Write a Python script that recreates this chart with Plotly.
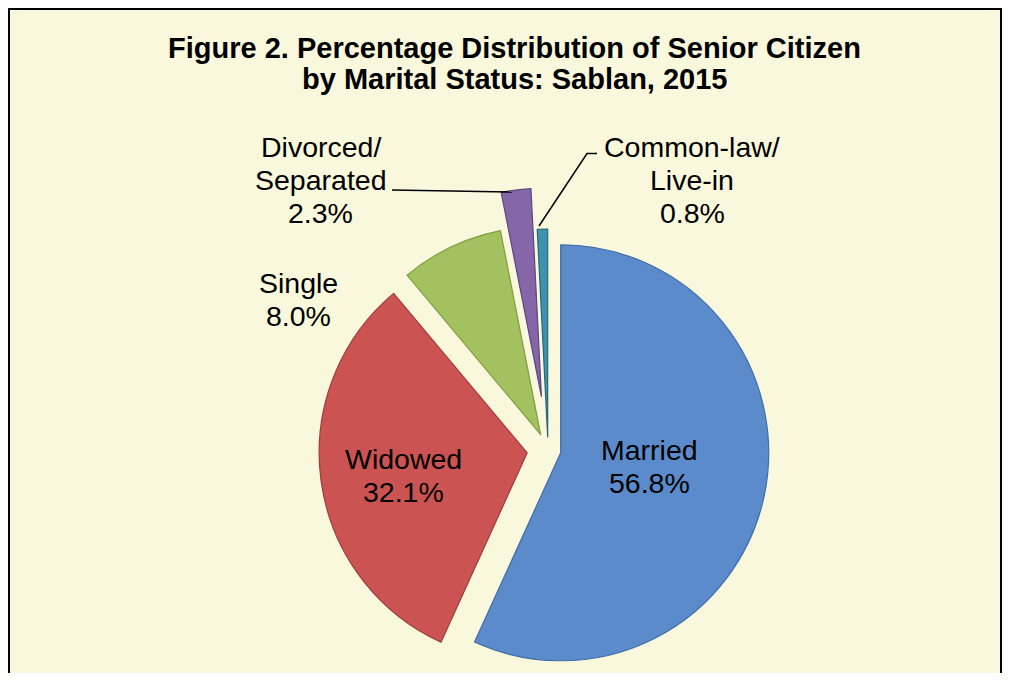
import math
import plotly.graph_objects as go

# ---------------- data ----------------
categories = ["Married", "Widowed", "Single", "Divorced/Separated", "Common-law/Live-in"]
label_lines = [["Married"], ["Widowed"], ["Single"], ["Divorced/", "Separated"], ["Common-law/", "Live-in"]]
percentages = [56.8, 32.1, 8.0, 2.3, 0.8]
title_lines = ["Figure 2. Percentage Distribution of Senior Citizen", "by Marital Status: Sablan, 2015"]

# ---------------- style / layout ----------------
colors = ["#5B8BCB", "#CB5452", "#A3C15F", "#8466A9", "#3C93AD"]
edge_colors = ["#3F6DAA", "#A03A38", "#7F9C40", "#5E4680", "#25687C"]
explode_px = [13, 21, 17, 54, 13]          # explosion distance of each slice (px)
BG = "#FAF8DC"
FONT = "Liberation Sans, Arial, sans-serif"
OFF = 8                                    # page body margin
SW, SH = 1010, 681                         # screen size
W, H = SW - 2 * OFF, SH - 2 * OFF          # figure size
cx, cy, R = 548, 450, 208                  # pie centre / radius (screen px)
label_pos = [(649, 450), (403, 459), (298, 283), (320.5, 147), (692, 147)]  # first-line centre
LINE_GAP = 33
LABEL_SIZE = 28.5
TITLE_SIZE = 29


def px_x(x):
    return (x - OFF) / W


def px_y(y):
    return 1 - (y - OFF) / H


fig = go.Figure()

total = sum(percentages)
cum = 0.0
for i, v in enumerate(percentages):
    theta = 2 * math.pi * (cum + v / 2) / total
    cum += v
    sx = cx + explode_px[i] * math.sin(theta)
    sy = cy - explode_px[i] * math.cos(theta)
    cols = [c if j == i else "rgba(0,0,0,0)" for j, c in enumerate(colors)]
    lcols = [c if j == i else "rgba(0,0,0,0)" for j, c in enumerate(edge_colors)]
    fig.add_trace(go.Pie(
        labels=categories, values=percentages, sort=False, direction="clockwise", rotation=0,
        textinfo="none", hoverinfo="label+percent",
        marker=dict(colors=cols, line=dict(color=lcols, width=1.2)),
        domain=dict(x=[px_x(sx - R), px_x(sx + R)], y=[px_y(sy + R), px_y(sy - R)]),
        showlegend=False,
    ))

annotations = []
for i, (lines, val) in enumerate(zip(label_lines, percentages)):
    x, y0 = label_pos[i]
    for k, line in enumerate(lines + [f"{val:.1f}%"]):
        annotations.append(dict(
            text=line, x=px_x(x), y=px_y(y0 + k * LINE_GAP), xref="paper", yref="paper",
            xanchor="center", yanchor="middle", showarrow=False,
            font=dict(family=FONT, size=LABEL_SIZE, color="black"),
        ))

title_y = [47.5, 78.5]
for k, line in enumerate(title_lines):
    annotations.append(dict(
        text=f"<b>{line}</b>", x=px_x(514), y=px_y(title_y[k]), xref="paper", yref="paper",
        xanchor="center", yanchor="middle", showarrow=False,
        font=dict(family=FONT, size=TITLE_SIZE, color="black"),
    ))

shapes = [
    # leader lines
    dict(type="line", xref="paper", yref="paper", x0=px_x(392), y0=px_y(190), x1=px_x(512), y1=px_y(192),
         line=dict(color="black", width=1.5)),
    dict(type="path", xref="paper", yref="paper",
         path=f"M {px_x(597)},{px_y(153.5)} L {px_x(587)},{px_y(153.5)} L {px_x(539)},{px_y(226)}",
         line=dict(color="black", width=1.5)),
    # chart border (left, top, right)
    dict(type="line", xref="paper", yref="paper", x0=px_x(9), y0=0, x1=px_x(9), y1=px_y(9),
         line=dict(color="black", width=2)),
    dict(type="line", xref="paper", yref="paper", x0=px_x(8), y0=px_y(9), x1=px_x(1002), y1=px_y(9),
         line=dict(color="black", width=2)),
    dict(type="line", xref="paper", yref="paper", x0=px_x(1001), y0=0, x1=px_x(1001), y1=px_y(9),
         line=dict(color="black", width=2)),
]

fig.update_layout(
    width=W, height=H,
    margin=dict(l=0, r=0, t=0, b=0),
    paper_bgcolor=BG, plot_bgcolor=BG,
    annotations=annotations,
    shapes=shapes,
    showlegend=False,
)

fig.write_html("out.html")
